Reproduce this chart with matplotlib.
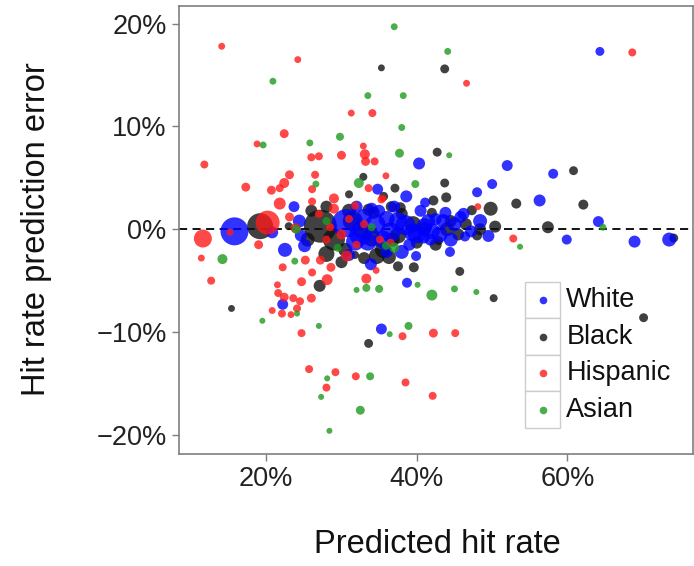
import matplotlib
matplotlib.use("Agg")
import matplotlib.pyplot as plt
from matplotlib.patches import Rectangle
import numpy as np

plt.rcParams['font.family'] = ['Liberation Sans', 'DejaVu Sans']

# (predicted hit rate %, prediction error %, relative weight)
white = [
    (15.8, -0.2, 169), (20.8, -0.3, 25), (22.5, -2.0, 36), (23.7, 2.2, 20), (22.2, -7.3, 20),
    (25.1, -1.6, 30), (35.3, -9.7, 20), (33.9, -3.4, 25), (34.8, 3.9, 20), (38.6, 3.2, 25),
    (40.3, 6.4, 25), (52.0, 6.2, 20), (58.1, 5.4, 16), (50.0, 4.4, 16), (48.0, 3.6, 16),
    (56.3, 2.8, 25), (64.3, 17.3, 12), (64.1, 0.75, 20), (59.9, -1.0, 16), (68.9, -1.2, 25),
    (73.5, -1.0, 36), (39.9, -2.6, 16), (44.4, -2.2, 16), (38.7, -5.2, 16), (41.1, 2.6, 16),
    (43.8, 1.6, 25), (46.2, 1.5, 25), (48.4, 0.8, 36), (49.5, -0.65, 25), (46.4, -0.7, 16),
    (41.8, -1.0, 25), (40.9, -0.8, 25), (30.6, 0.6, 169), (32.5, -0.5, 100), (34.5, 0.5, 81),
    (36.5, -0.3, 81), (38.5, 0.4, 81), (40.0, -0.5, 64), (36.0, 1.0, 49), (33.5, -1.2, 64),
    (41.5, 0.8, 36), (43.0, -0.5, 49), (42.5, 1.0, 25),
    (45.0, 0.5, 36), (39.0, -1.5, 25), (37.0, 2.2, 25), (35.0, 1.8, 25), (24.4, 0.8, 30),
    (31.8, -1.2, 64), (33.0, 1.2, 49), (35.5, -1.0, 64), (37.5, 0.8, 64), (39.5, -0.3, 64),
    (41.0, 0.3, 49), (42.0, -0.2, 49), (43.5, 0.8, 36), (44.5, -1.0, 36), (38.0, -2.2, 36),
    (36.0, -2.2, 25), (40.5, 1.8, 25), (34.0, 2.0, 25), (32.0, 2.2, 25),
    (45.8, 1.2, 25), (47.2, -0.2, 25), (31.0, -2.5, 25), (24.6, -0.6, 25),
]
black = [
    (19.2, 0.3, 144), (27.2, 0.3, 240), (15.4, -7.7, 6), (27.1, -5.5, 25), (30.0, -3.2, 25),
    (31.8, -2.5, 9), (33.6, -11.1, 12), (35.3, 15.7, 6), (43.7, 15.6, 12), (42.7, 7.5, 12),
    (37.1, 4.0, 12), (43.7, 4.5, 12), (43.9, 3.1, 16), (53.2, 2.5, 16), (62.1, 2.4, 16),
    (60.8, 5.7, 12), (49.8, 2.0, 36), (47.3, 1.85, 16), (57.4, 0.2, 25), (74.1, -0.85, 12),
    (42.9, -1.1, 12), (37.5, -3.6, 16), (39.6, -3.7, 16), (45.7, -4.1, 12), (50.2, -6.7, 9),
    (70.1, -8.6, 12), (32.9, 5.1, 9), (31.0, 3.4, 9), (35.6, 3.2, 12), (33.6, 1.9, 25),
    (34.3, 1.6, 25), (36.6, 2.2, 20), (37.8, 2.1, 20), (34.7, -2.6, 49), (42.2, 2.8, 16),
    (42.0, 1.6, 16), (44.5, 0.8, 25), (48.4, 0.0, 25), (50.4, 0.26, 25), (48.0, -0.6, 16),
    (29.0, -1.0, 100), (31.5, 0.8, 81), (34.0, -0.8, 64), (37.5, -0.6, 49), (39.5, 0.5, 49),
    (35.5, -2.0, 49), (31.0, 1.8, 36), (41.0, 0.0, 36), (44.0, 0.0, 36), (45.5, -0.5, 25),
    (38.0, 1.5, 25), (23.0, 0.3, 9), (26.0, 1.8, 25), (28.0, 2.2, 25), (30.5, -2.0, 36),
    (32.5, 0.0, 49), (36.8, -1.0, 36), (40.0, -1.3, 25), (42.5, -1.5, 25), (46.5, 0.5, 25),
    (33.0, -2.8, 25), (25.5, -1.0, 36), (28.0, -2.4, 49), (36.3, -2.7, 36),
]
hispanic = [
    (11.6, -0.9, 64), (20.2, 0.65, 121), (14.1, 17.8, 6), (24.2, 16.5, 6), (31.3, 11.3, 6),
    (22.4, 9.3, 12), (18.8, 8.3, 6), (11.8, 6.3, 9), (26.0, 7.0, 9), (27.0, 7.1, 9),
    (30.0, 7.2, 12), (34.1, 11.3, 9), (32.9, 8.1, 6), (33.1, 7.3, 16), (33.2, 6.6, 12),
    (34.4, 6.6, 9), (46.6, 14.2, 6), (68.6, 17.2, 9), (35.9, 5.2, 6), (35.5, 3.0, 6),
    (48.1, 2.2, 6), (52.8, -0.9, 9), (17.3, 4.1, 12), (20.7, 3.8, 12), (21.8, 4.0, 9),
    (22.4, 4.5, 16), (23.1, 5.3, 12), (21.8, 2.5, 25), (23.1, 1.2, 12), (19.0, -1.5, 12),
    (11.4, -2.8, 6), (12.7, -5.0, 9), (22.2, -3.7, 9), (25.2, -3.0, 12), (27.2, -3.0, 12),
    (28.6, -3.7, 12), (26.1, -4.2, 9), (24.7, -5.1, 12), (28.1, -4.9, 20), (21.5, -5.4, 6),
    (21.6, -6.2, 9), (22.4, -6.6, 12), (23.6, -6.7, 9), (24.5, -7.0, 9), (26.0, -6.7, 12),
    (20.8, -7.9, 6), (22.1, -8.2, 9), (23.3, -8.3, 6), (24.1, -7.7, 9), (24.7, -10.1, 9),
    (25.7, -13.6, 9), (28.0, -15.4, 9), (29.2, -13.9, 9), (31.9, -14.3, 9), (38.5, -14.9, 9),
    (42.1, -16.2, 9), (38.1, -10.4, 9), (42.2, -10.1, 12), (45.1, -10.1, 9), (33.3, -4.8, 16),
    (34.6, -4.0, 6), (30.7, -2.6, 20), (26.5, 5.3, 9), (26.1, 3.9, 9), (26.1, 2.7, 9),
    (29.0, 3.0, 16), (33.6, 4.0, 9), (31.8, 2.3, 9), (35.3, 2.9, 9), (35.1, -1.0, 9),
    (27.0, 1.5, 9), (28.5, 0.2, 9), (30.0, -0.5, 16), (31.0, 1.0, 9), (29.0, 2.0, 16),
    (32.0, -1.5, 9), (28.0, -1.0, 9), (33.0, 0.5, 9), (36.5, -1.3, 9), (23.9, 0.1, 16),
    (15.2, -0.3, 6),
]
asian = [
    (20.9, 14.4, 6), (19.6, 8.2, 6), (25.8, 8.4, 6), (29.8, 9.0, 9), (37.0, 19.7, 6),
    (44.1, 17.3, 6), (33.5, 13.0, 6), (38.2, 13.0, 6), (38.0, 9.9, 6), (37.7, 7.4, 12),
    (44.3, 7.2, 4), (39.8, 4.4, 9), (64.7, 0.2, 6), (53.7, -1.7, 4), (40.1, -5.4, 4),
    (45.0, -5.8, 6), (47.9, -6.1, 4), (42.0, -6.4, 20), (14.2, -2.9, 16), (19.5, -8.9, 4),
    (23.8, -3.1, 6), (24.1, -8.2, 4), (27.0, -9.4, 4), (28.1, -14.5, 4), (27.3, -16.3, 4),
    (28.4, -19.6, 4), (33.8, -14.3, 9), (32.5, -17.6, 12), (38.9, -9.4, 9), (36.4, -10.2, 4),
    (33.3, -5.7, 9), (35.0, -5.8, 9), (32.0, -5.9, 4), (26.6, 4.4, 6), (32.3, 4.5, 16),
    (24.0, 0.0, 12), (35.9, -1.6, 9), (28.0, 0.8, 9), (34.0, 0.2, 9), (29.5, -1.8, 9),
    (37.0, -1.8, 16),
]

groups = ["White", "Black", "Hispanic", "Asian"]
series = [white, black, hispanic, asian]
colors = {"White": "#0000ff", "Black": "#111111", "Hispanic": "#ff1a1a", "Asian": "#1e9a1e"}
draw_order = ["Black", "White", "Hispanic", "Asian"]


def marker_area(n):
    # radius in px grows with sqrt(weight), with a floor so small groups stay visible
    r = np.sqrt(np.asarray(n, dtype=float)) + 1.0
    return 2.07 * r ** 2


fig = plt.figure(figsize=(6.94, 5.66), dpi=100)
ax = fig.add_axes([0.258, 0.198, 0.741, 0.792])

data = dict(zip(groups, series))
for z, g in enumerate(draw_order):
    pts = data[g]
    xs = [p[0] for p in pts]
    ys = [p[1] for p in pts]
    ns = marker_area([p[2] for p in pts])
    ax.scatter(xs, ys, s=ns, c=colors[g], alpha=0.8, linewidths=0, zorder=2 + z)

ax.axhline(0, color='black', linestyle=(0, (4.5, 3)), linewidth=1.3, zorder=1)

ax.set_xlim(8.44, 76.7)
ax.set_ylim(-21.85, 21.75)
ax.set_xticks([20, 40, 60])
ax.set_xticklabels(["20%", "40%", "60%"])
ax.set_yticks([-20, -10, 0, 10, 20])
ax.set_yticklabels(["\u221220%", "\u221210%", "0%", "10%", "20%"])
ax.tick_params(direction='out', length=5, width=1, color='#7f7f7f',
               labelsize=19.5, labelcolor='#222222', pad=4)
for sp in ax.spines.values():
    sp.set_color('#7f7f7f')
    sp.set_linewidth(1.2)

ax.set_xlabel("Predicted hit rate", fontsize=23.5, color='#111111')
ax.xaxis.set_label_coords(0.502, -0.168)
ax.set_ylabel("Hit rate prediction error", fontsize=23.5, color='#111111')
ax.yaxis.set_label_coords(-0.247, 0.502)

# legend drawn as ggplot-style key boxes
key_x, key_w = 0.673, 0.068
row_h = 0.0815
top = 0.384
for i, g in enumerate(groups):
    y0 = top - (i + 1) * row_h
    ax.add_patch(Rectangle((key_x, y0), key_w, row_h, transform=ax.transAxes,
                           facecolor='white', edgecolor='#cccccc', linewidth=1, zorder=21))
    ax.scatter([key_x + key_w / 2], [y0 + row_h / 2], s=30, c=colors[g], alpha=0.8,
               linewidths=0, transform=ax.transAxes, zorder=22, clip_on=False)
    ax.text(key_x + key_w + 0.012, y0 + row_h / 2, g, transform=ax.transAxes,
            fontsize=19.5, va='center', ha='left', color='#111111', zorder=22)

fig.savefig("out.png", dpi=100)
